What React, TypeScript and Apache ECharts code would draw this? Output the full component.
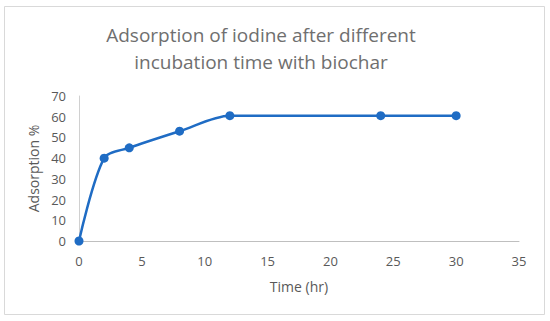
import React, { useEffect, useRef } from "react";
import * as echarts from "echarts";

const times = [0, 2, 4, 8, 12, 24, 30];
const adsorption = [0, 40, 45, 53, 60.5, 60.5, 60.5];
const titleLines = ["Adsorption of iodine after different", "incubation time with biochar"];
const xName = "Time (hr)";
const yName = "Adsorption %";

export default function App() {
  const ref = useRef<HTMLDivElement>(null);
  useEffect(() => {
    if (!ref.current) return;
    const chart = echarts.init(ref.current, undefined, { renderer: "svg" });
    const font = "'Open Sans', 'Noto Sans', sans-serif";
    chart.setOption({
      animation: false,
      backgroundColor: "#ffffff",
      graphic: [
        {
          type: "rect",
          shape: { x: 4.5, y: 6.5, width: 540, height: 308 },
          style: { fill: "none", stroke: "#d9d9d9", lineWidth: 1 },
          silent: true,
        },
        {
          type: "text",
          x: 261,
          y: 21,
          silent: true,
          style: {
            text: titleLines.join("\n"),
            fill: "#6f6f6f",
            fontSize: 19,
            fontFamily: font,
            lineHeight: 27,
            textAlign: "center",
            textVerticalAlign: "top",
          },
        },
      ],
      grid: { left: 79, right: 31, top: 96, bottom: 80 },
      xAxis: {
        type: "value",
        min: 0,
        max: 35,
        interval: 5,
        name: xName,
        nameLocation: "middle",
        nameGap: 38,
        nameTextStyle: { color: "#595959", fontSize: 14, fontFamily: font },
        axisLine: { show: true, lineStyle: { color: "#bfbfbf", width: 1 } },
        axisTick: { show: false },
        splitLine: { show: false },
        axisLabel: { color: "#595959", fontSize: 13, fontFamily: font, margin: 13 },
      },
      yAxis: {
        type: "value",
        min: 0,
        max: 70,
        interval: 10,
        name: yName,
        nameLocation: "middle",
        nameGap: 35,
        nameRotate: 90,
        nameTextStyle: { color: "#595959", fontSize: 14, fontFamily: font },
        axisLine: { show: true, lineStyle: { color: "#d0d0d0", width: 1 } },
        axisTick: { show: false },
        splitLine: { show: false },
        axisLabel: { color: "#595959", fontSize: 13, fontFamily: font, margin: 13 },
      },
      series: [
        {
          type: "line",
          data: times.map((t, i) => [t, adsorption[i]]),
          smooth: 0.3,
          symbol: "circle",
          symbolSize: 9,
          itemStyle: { color: "#1f6cc4" },
          lineStyle: { color: "#1f6cc4", width: 2.5 },
        },
      ],
    });
    return () => chart.dispose();
  }, []);
  return (
    <div
      ref={ref}
      style={{ position: "absolute", left: 0, top: 0, width: 550, height: 321 }}
    />
  );
}
